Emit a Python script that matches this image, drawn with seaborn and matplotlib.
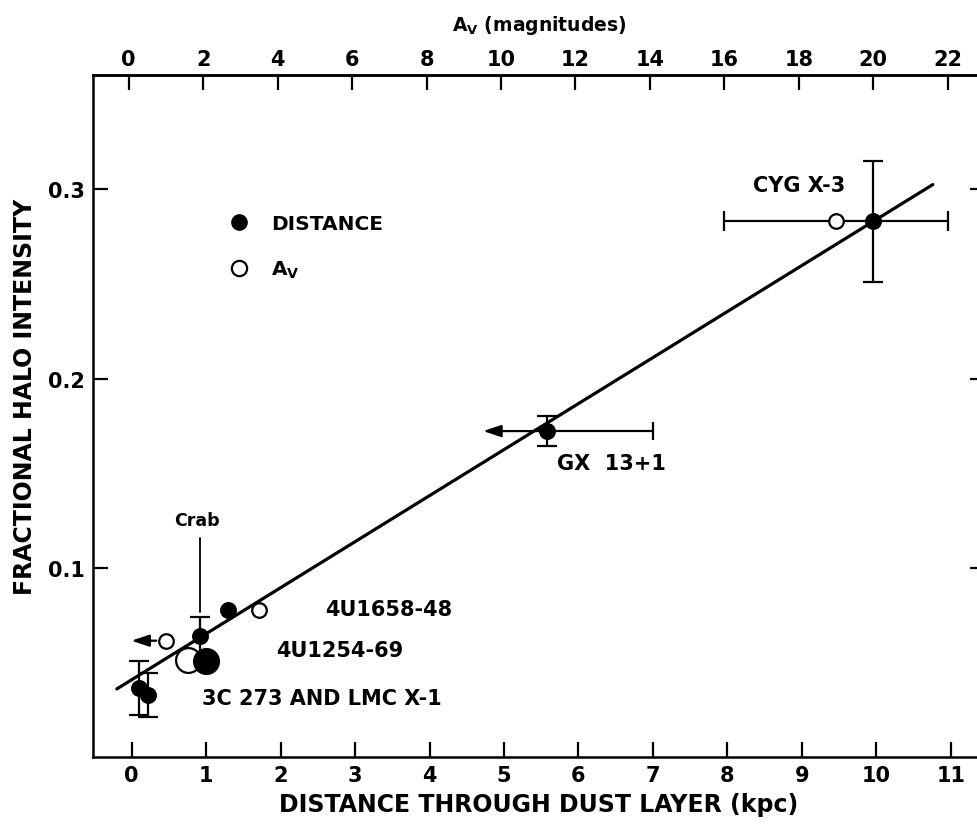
import numpy as np
import pandas as pd
import seaborn as sns
import matplotlib.pyplot as plt
from matplotlib.lines import Line2D

# filled circles: halo intensity vs distance through the dust layer (kpc)
dist_kpc = [0.10, 0.22, 0.92, 1.29, 5.58, 9.95]
dist_halo = [0.0365, 0.0327, 0.0638, 0.0778, 0.1723, 0.2831]
dist_halo_err = [0.0145, 0.0117, 0.010, 0.0, 0.008, 0.032]

# 4U1254-69, drawn with the larger circles
big_dist_kpc = [1.0]
big_dist_halo = [0.0509]
big_av_mag = [1.6]
big_av_halo = [0.0515]

# open circles: halo intensity vs A_V (magnitudes, top axis)
av_mag = [1.0, 3.5, 19.0]
av_halo = [0.0615, 0.0778, 0.2831]
av_mag_err = [0.0, 0.0, 3.0]

# GX 13+1 distance range (arrow end, cap end) and the A_V upper-limit arrow
gx_kpc_range = [4.72, 7.0]
av_limit_mag = [1.0, 0.07]

# fitted line
fit_kpc = [-0.2, 10.76]
fit_halo = [0.036, 0.3026]

bottom_ticks = list(range(0, 12))
top_ticks = list(range(0, 23, 2))
y_ticks = [0.1, 0.2, 0.3]
y_ticklabels = ['0.1', '0.2', '0.3']

labels = ['CYG X-3', 'GX  13+1', '4U1658-48', '4U1254-69', '3C 273 AND LMC X-1']
label_kpc = [8.97, 6.44, 3.45, 2.79, 2.55]
label_halo = [0.3025, 0.1553, 0.0782, 0.0566, 0.0313]


def kpc_to_av(x):
    return 2.0 * np.asarray(x) + 0.08


def av_to_kpc(a):
    return (np.asarray(a) - 0.08) / 2.0


sns.set_theme(style='ticks', rc={'axes.edgecolor': 'black', 'text.color': 'black',
                                 'xtick.color': 'black', 'ytick.color': 'black',
                                 'axes.labelcolor': 'black'})
plt.rcParams['font.family'] = ['DejaVu Sans']
plt.rcParams['font.weight'] = 'bold'
plt.rcParams['axes.labelweight'] = 'bold'
plt.rcParams['mathtext.default'] = 'bf'

fig = plt.figure(figsize=(9.78, 8.29), dpi=100)
ax = fig.add_axes([0.0951, 0.0856, 0.912, 0.8227])

df_fit = pd.DataFrame({'kpc': fit_kpc, 'halo': fit_halo})
sns.lineplot(data=df_fit, x='kpc', y='halo', ax=ax, color='black', lw=2.3, zorder=2)

lw = 1.6
dx = np.asarray(dist_kpc)
dy = np.asarray(dist_halo)
dy_err = np.asarray(dist_halo_err)
has_err = dy_err > 0
ax.errorbar(dx[has_err], dy[has_err], yerr=dy_err[has_err], fmt='none',
            ecolor='black', elinewidth=lw, capsize=7, capthick=lw, zorder=3)

# GX 13+1 horizontal bar, cap on the right and arrow on the left
gx_i = 4
ax.errorbar([dist_kpc[gx_i]], [dist_halo[gx_i]],
            xerr=[[0.0], [gx_kpc_range[1] - dist_kpc[gx_i]]], fmt='none',
            ecolor='black', elinewidth=lw, capsize=6.5, capthick=lw, zorder=3)
ax.annotate('', xy=(gx_kpc_range[0], dist_halo[gx_i]),
            xytext=(dist_kpc[gx_i], dist_halo[gx_i]),
            arrowprops=dict(arrowstyle='-|>,head_length=0.9,head_width=0.3',
                            color='black', lw=lw, shrinkA=0, shrinkB=0), zorder=3)

# A_V horizontal bars (CYG X-3)
av_x = av_to_kpc(av_mag)
av_y = np.asarray(av_halo)
av_xerr = np.asarray(av_mag_err) / 2.0
has_xerr = av_xerr > 0
ax.errorbar(av_x[has_xerr], av_y[has_xerr], xerr=av_xerr[has_xerr], fmt='none',
            ecolor='black', elinewidth=lw, capsize=7, capthick=lw, zorder=3)

# upper limit arrow on the open circle
lim_x = av_to_kpc(av_limit_mag)
ax.annotate('', xy=(lim_x[1], av_halo[0]), xytext=(lim_x[0], av_halo[0]),
            arrowprops=dict(arrowstyle='-|>,head_length=0.9,head_width=0.3',
                            color='black', lw=lw, shrinkA=7, shrinkB=0), zorder=3)

# markers
sns.scatterplot(x=av_to_kpc(big_av_mag), y=big_av_halo, ax=ax, color='white',
                edgecolor='black', linewidth=lw, s=320, zorder=4)
sns.scatterplot(x=big_dist_kpc, y=big_dist_halo, ax=ax, color='black',
                edgecolor='black', linewidth=lw, s=320, zorder=5)
sns.scatterplot(x=av_x, y=av_halo, ax=ax, color='white', edgecolor='black',
                linewidth=lw, s=110, zorder=4)
sns.scatterplot(x=dist_kpc, y=dist_halo, ax=ax, color='black', edgecolor='black',
                linewidth=1, s=125, zorder=5)

# Crab pointer
ax.annotate('Crab', xy=(dist_kpc[2], 0.0766), xytext=(0.873, 0.1253),
            ha='center', va='center', fontsize=12.5,
            arrowprops=dict(arrowstyle='-', color='black', lw=1.3,
                            shrinkA=4, shrinkB=0,
                            connectionstyle='angle,angleA=0,angleB=90,rad=0'))

for txt, lx, ly in zip(labels, label_kpc, label_halo):
    ax.text(lx, ly, txt, ha='center', va='center', fontsize=15)

# legend
h_dist = Line2D([], [], ls='none', marker='o', ms=11, mfc='black', mec='black')
h_av = Line2D([], [], ls='none', marker='o', ms=11, mfc='white', mec='black', mew=lw)
ax.legend([h_dist, h_av], ['DISTANCE', r'A$_{V}$'], loc='upper left',
          bbox_to_anchor=(0.152, 0.7965), frameon=False,
          prop={'size': 14.5, 'weight': 'bold'},
          handlelength=1.0, handletextpad=1.1, labelspacing=1.28,
          borderpad=0, borderaxespad=0)

ax.set_xlim(-0.52, 11.46)
ax.set_ylim(0.0, 0.3605)
ax.set_xticks(bottom_ticks)
ax.set_xticklabels([str(t) for t in bottom_ticks])
ax.set_yticks(y_ticks)
ax.set_yticklabels(y_ticklabels)
ax.tick_params(axis='both', direction='in', length=11, width=lw, labelsize=15, pad=6)
ax.tick_params(axis='x', top=False, bottom=True)
ax.tick_params(axis='y', left=True, right=True)
for sp in ax.spines.values():
    sp.set_linewidth(1.8)
    sp.set_color('black')

ax.set_xlabel('DISTANCE THROUGH DUST LAYER (kpc)', fontsize=17, labelpad=5)
ax.set_ylabel('FRACTIONAL HALO INTENSITY', fontsize=17)
ax.yaxis.set_label_coords(-0.063, 0.529)

secax = ax.secondary_xaxis('top', functions=(kpc_to_av, av_to_kpc))
secax.set_xticks(top_ticks)
secax.set_xticklabels([str(t) for t in top_ticks])
secax.tick_params(direction='in', length=11, width=lw, labelsize=15, pad=4)
secax.spines['top'].set_linewidth(1.8)
secax.set_xlabel(r'A$_{V}$ (magnitudes)', fontsize=13.5, labelpad=14)

fig.savefig('out.png', dpi=100)
